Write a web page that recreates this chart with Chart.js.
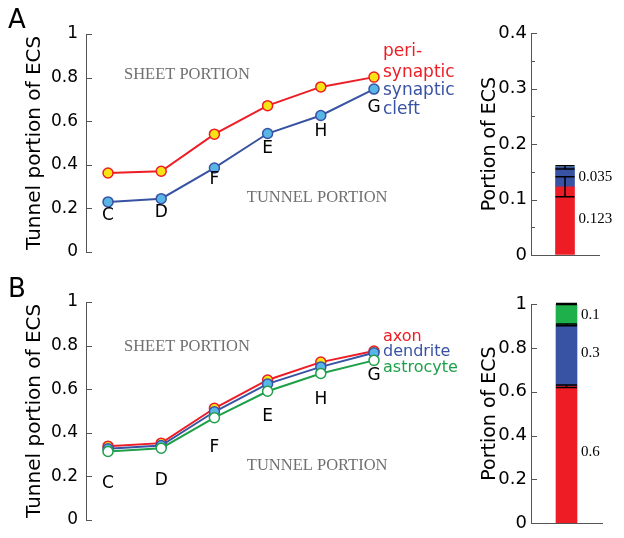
<!DOCTYPE html>
<html>
<head>
<meta charset="utf-8">
<script src="https://cdn.jsdelivr.net/npm/chart.js@4"></script>
<style>
  html, body { margin: 0; padding: 0; background: #fff; }
  #fig { position: relative; width: 624px; height: 538px; overflow: hidden; }
  #fig canvas { position: absolute; }
</style>
</head>
<body>
<div id="fig">
  <canvas id="lineA" width="460" height="270" style="left:0;top:0"></canvas>
  <canvas id="barA" width="164" height="270" style="left:460px;top:0"></canvas>
  <canvas id="lineB" width="460" height="268" style="left:0;top:270px"></canvas>
  <canvas id="barB" width="164" height="268" style="left:460px;top:270px"></canvas>
</div>
<script>
// ---- data ----
const categories = ['C', 'D', 'F', 'E', 'H', 'G'];
const letterY = [0.167, 0.181, 0.33, 0.475, 0.552, 0.66];   // where the letters sit (data units)

// panel A
const periSynaptic = [0.362, 0.370, 0.540, 0.671, 0.757, 0.802];
const synapticCleft = [0.229, 0.244, 0.385, 0.543, 0.626, 0.747];
const legendTextA = ['peri-', 'synaptic', 'synaptic', 'cleft'];
const legendYA = [0.92, 0.822, 0.742, 0.652];

// panel B
const axon = [0.338, 0.352, 0.512, 0.642, 0.724, 0.775];
const dendrite = [0.326, 0.341, 0.496, 0.624, 0.702, 0.767];
const astrocyte = [0.314, 0.329, 0.469, 0.590, 0.672, 0.732];
const legendTextB = ['axon', 'dendrite', 'astrocyte'];
const legendYB = [0.842, 0.77, 0.699];

// stacked bars
const barRedA = [0.123], barBlueA = [0.035], barLightA = [0.003];
const barErrA = [0.018, 0.003, 0];
const barTextA = ['0.123', '0.035'], barTextYA = [0.065, 0.1405];

const barRedB = [0.625], barBlueB = [0.28], barGreenB = [0.095];
const barErrB = [0.006, 0.004, 0.002];
const barTextB = ['0.6', '0.3', '0.1'], barTextYB = [0.323, 0.774, 0.951];

const RED = '#ee1c24', BLUE = '#3953a4', GREEN = '#1ea04a';
const YELLOW = '#f7e414', LIGHTBLUE = '#58b6e7';
const SANS = '"DejaVu Sans", sans-serif';
const SERIF = '"Liberation Serif", serif';

function drawInwardTicks(chart) {
  const ctx = chart.ctx, y = chart.scales.y, a = chart.chartArea;
  ctx.save();
  ctx.strokeStyle = '#555';
  ctx.lineWidth = 1;
  y.ticks.forEach(t => {
    const py = Math.round(y.getPixelForValue(t.value)) + 0.5;
    const len = t.label !== '' ? 6 : 4;
    ctx.beginPath();
    ctx.moveTo(a.left, py);
    ctx.lineTo(a.left + len, py);
    ctx.stroke();
  });
  ctx.restore();
}

const lineText = {
  id: 'lineText',
  afterDraw(chart, args, o) {
    const ctx = chart.ctx, x = chart.scales.x, y = chart.scales.y;
    drawInwardTicks(chart);
    ctx.save();
    ctx.textBaseline = 'middle';
    // point letters
    ctx.font = '17px ' + SANS;
    ctx.fillStyle = '#000';
    ctx.textAlign = 'center';
    categories.forEach((c, i) => ctx.fillText(c, x.getPixelForValue(i), y.getPixelForValue(letterY[i])));
    // series names at the right end
    ctx.textAlign = 'left';
    ctx.font = o.legendFont;
    const lx = x.getPixelForValue(categories.length - 1) + 9;
    o.legend.forEach((t, i) => {
      ctx.fillStyle = o.legendColors[i];
      ctx.fillText(t, lx, y.getPixelForValue(o.legendY[i]));
    });
    // region labels
    ctx.font = '16.5px ' + SERIF;
    ctx.fillStyle = '#707070';
    ctx.fillText('SHEET PORTION', x.getPixelForValue(0.3), y.getPixelForValue(o.sheetY));
    ctx.fillText('TUNNEL PORTION', x.getPixelForValue(2.61), y.getPixelForValue(o.tunnelY));
    // panel letter
    ctx.font = '26px ' + SANS;
    ctx.fillStyle = '#000';
    ctx.textBaseline = 'alphabetic';
    ctx.fillText(o.panel, 8, o.panelBase);
    ctx.restore();
  }
};

const barExtras = {
  id: 'barExtras',
  afterDatasetsDraw(chart, args, o) {
    const ctx = chart.ctx, y = chart.scales.y;
    const bar = chart.getDatasetMeta(0).data[0];
    const cx = bar.x, half = bar.width / 2;
    ctx.save();
    ctx.strokeStyle = '#000';
    ctx.lineWidth = 1.5;
    let top = 0;
    chart.data.datasets.forEach((ds, k) => {
      top += ds.data[0];
      const e = o.errors[k];
      if (!e) return;
      const y1 = y.getPixelForValue(top - e), y2 = y.getPixelForValue(top + e);
      ctx.beginPath();
      ctx.moveTo(cx, y1); ctx.lineTo(cx, y2);
      ctx.moveTo(cx - half, y1); ctx.lineTo(cx + half, y1);
      ctx.moveTo(cx - half, y2); ctx.lineTo(cx + half, y2);
      ctx.stroke();
    });
    ctx.font = '15px ' + SERIF;
    ctx.fillStyle = '#000';
    ctx.textAlign = 'left';
    ctx.textBaseline = 'middle';
    o.labels.forEach((t, i) => ctx.fillText(t, cx + half + 4, y.getPixelForValue(o.labelY[i])));
    ctx.restore();
  },
  afterDraw(chart) { drawInwardTicks(chart); }
};

function lineSet(values, color, fill, order) {
  return {
    data: values.map((v, i) => ({ x: i, y: v })),
    borderColor: color, borderWidth: 2,
    pointBackgroundColor: fill, pointBorderColor: color,
    pointBorderWidth: 1.5, pointRadius: 5,
    order: order, clip: false,
  };
}

function makeLine(id, datasets, pad, textOpts) {
  new Chart(document.getElementById(id), {
    type: 'line',
    data: { datasets },
    plugins: [lineText],
    options: {
      responsive: false, animation: false, devicePixelRatio: 1,
      layout: { padding: pad },
      plugins: { legend: { display: false }, tooltip: { enabled: false }, lineText: textOpts },
      scales: {
        x: { type: 'linear', display: false, min: -0.414, max: 5.489 },
        y: {
          min: 0, max: 1,
          afterFit: s => { s.width = 86; },
          ticks: {
            stepSize: 0.1, padding: 8, color: '#000', font: { family: SANS, size: 17 },
            callback: v => Math.abs(v * 5 - Math.round(v * 5)) < 1e-6 ? String(+v.toFixed(1)) : '',
          },
          grid: { drawOnChartArea: false, drawTicks: false },
          border: { display: true, color: '#555', width: 1 },
          title: {
            display: true, text: 'Tunnel portion of ECS', color: '#000',
            font: { family: SANS, size: 20 }, padding: { top: 23, bottom: 0 },
          },
        },
      },
    },
  });
}

function makeBar(id, stacks, colors, yMax, step, labelStep, pad, thickness, extras) {
  new Chart(document.getElementById(id), {
    type: 'bar',
    data: {
      labels: [''],
      datasets: stacks.map((s, k) => ({ data: s, backgroundColor: colors[k], borderWidth: 0, barThickness: thickness })),
    },
    plugins: [barExtras],
    options: {
      responsive: false, animation: false, devicePixelRatio: 1,
      layout: { padding: pad },
      plugins: { legend: { display: false }, tooltip: { enabled: false }, barExtras: extras },
      scales: {
        x: {
          stacked: true,
          afterFit: s => { s.height = 0; },
          ticks: { display: false },
          grid: { display: false, drawTicks: false },
          border: { display: true, color: '#555', width: 1 },
        },
        y: {
          stacked: true, min: 0, max: yMax,
          afterFit: s => { s.width = 71; },
          ticks: {
            stepSize: step, padding: 4, color: '#000', font: { family: SANS, size: 18 },
            callback: v => Math.abs(v / labelStep - Math.round(v / labelStep)) < 1e-6 ? String(+v.toFixed(1)) : '',
          },
          grid: { drawOnChartArea: false, drawTicks: false },
          border: { display: true, color: '#555', width: 1 },
          title: {
            display: true, text: 'Portion of ECS', color: '#000',
            font: { family: SANS, size: 19 }, padding: { top: 18.6, bottom: 0 },
          },
        },
      },
    },
  });
}

makeLine('lineA',
  [lineSet(periSynaptic, RED, YELLOW, 2), lineSet(synapticCleft, BLUE, LIGHTBLUE, 1)],
  { left: 0, top: 34, right: 60, bottom: 15 },
  { legend: legendTextA, legendColors: [RED, RED, BLUE, BLUE], legendY: legendYA,
    legendFont: '17px ' + SANS, sheetY: 0.815, tunnelY: 0.249, panel: 'A', panelBase: 28 });

makeLine('lineB',
  [lineSet(axon, RED, YELLOW, 3), lineSet(dendrite, BLUE, LIGHTBLUE, 2), lineSet(astrocyte, GREEN, '#ffffff', 1)],
  { left: 0, top: 32, right: 60, bottom: 14 },
  { legend: legendTextB, legendColors: [RED, BLUE, GREEN], legendY: legendYB,
    legendFont: '16px ' + SANS, sheetY: 0.797, tunnelY: 0.248, panel: 'B', panelBase: 27 });

makeBar('barA', [barRedA, barBlueA, barLightA], [RED, BLUE, '#8ccbee'], 0.4, 0.05, 0.1,
  { left: 0, top: 33, right: 25, bottom: 15 }, 19,
  { errors: barErrA, labels: barTextA, labelY: barTextYA });

makeBar('barB', [barRedB, barBlueB, barGreenB], [RED, BLUE, '#1db04b'], 1, 0.1, 0.2,
  { left: 0, top: 34, right: 22, bottom: 14 }, 21,
  { errors: barErrB, labels: barTextB, labelY: barTextYB });
</script>
</body>
</html>
